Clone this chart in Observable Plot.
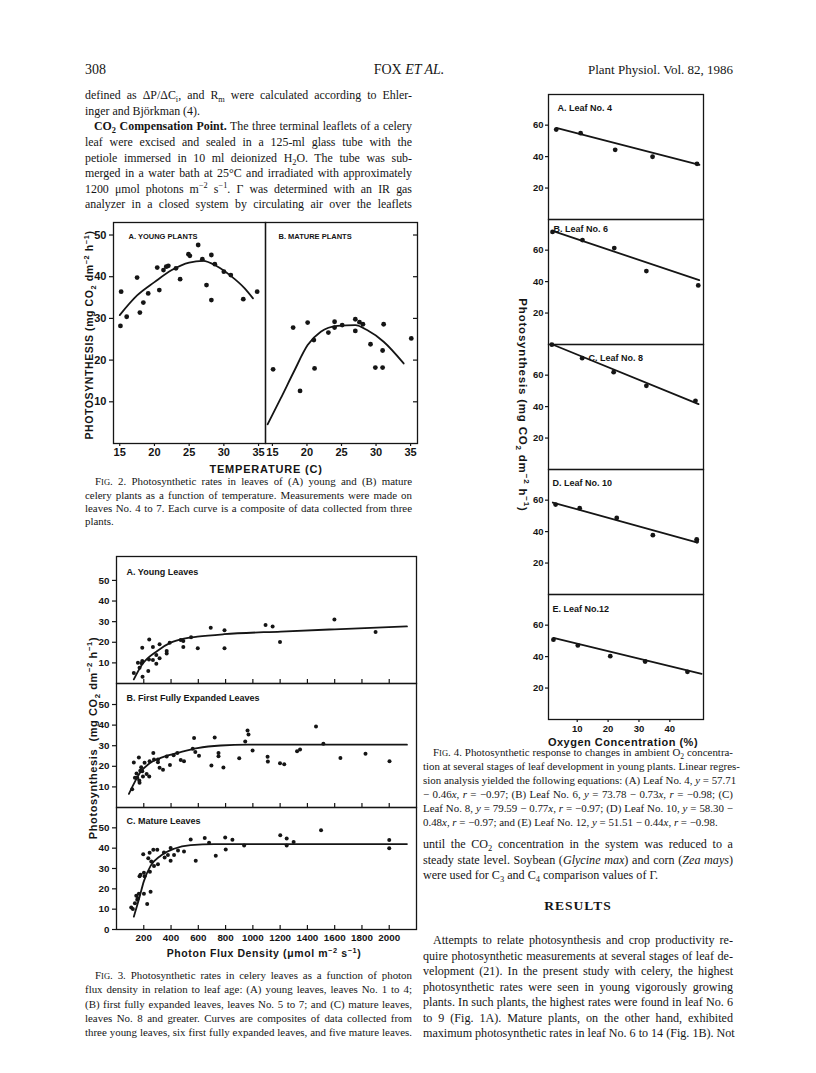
<!DOCTYPE html>
<html><head><meta charset="utf-8">
<script src="https://cdn.jsdelivr.net/npm/d3@7"></script>
<script src="https://cdn.jsdelivr.net/npm/@observablehq/plot@0.6"></script>
<style>
html,body{margin:0;padding:0;background:#fff;}
#page{position:relative;width:816px;height:1073px;overflow:hidden;background:#fff;color:#151515;font-family:'Liberation Serif','Times New Roman',serif;}
.ln{position:absolute;white-space:nowrap;text-align:justify;text-align-last:justify;}
.ln sub,.ln sup{font-size:70%;line-height:0;}
.sc{font-size:78%;}
.ax{position:absolute;font-family:'Liberation Sans',Arial,sans-serif;font-weight:bold;white-space:nowrap;color:#151515;}
.ax sub,.ax sup{font-size:70%;line-height:0;}
</style></head>
<body><div id="page"></div>
<script>
// ---------- DATA ----------
// Fig 2 temperature response
const f2TempTicks = [15, 20, 25, 30, 35];
const f2RateTicks = [10, 20, 30, 40, 50];
const f2A_temp = [15.2,15.1,16.0,17.5,17.9,18.4,19.1,20.4,20.7,21.3,21.7,22.0,23.1,23.7,24.9,25.1,26.3,26.9,27.5,28.2,28.2,28.7,30.0,31.0,32.8,34.8];
const f2A_rate = [36.4,28.2,30.4,39.8,31.4,33.8,36.0,42.2,36.8,41.6,42.4,42.6,42.0,39.4,45.4,45.0,47.6,44.2,38.0,45.2,34.4,43.0,41.2,40.4,34.6,36.4];
const f2A_curveT = [15,17.5,20,22.5,25,27,29,31,33,34.2];
const f2A_curveP = [30.8,35.5,38.7,41.6,43.4,43.8,42.5,40.2,37.2,34.8];
const f2B_temp = [15.1,18.0,19.0,20.1,21.0,21.1,23.1,24.0,24.0,25.1,27.0,27.0,27.6,28.1,29.2,29.9,30.95,30.95,31.1,35.1];
const f2B_rate = [17.8,27.8,12.6,29.0,24.8,18.0,26.6,29.2,27.8,28.4,29.8,27.0,29.1,28.6,23.8,18.2,22.3,18.2,28.6,25.2];
const f2B_curveT = [14.3,16.2,18.1,20.1,22.0,24.4,27,28.7,31.1,34.0];
const f2B_curveP = [4.6,10.8,17.2,23.6,26.8,28.2,28.4,27.2,24.4,19.2];

// Fig 3 light response
const f3XTicks = [200,400,600,800,1000,1200,1400,1600,1800,2000];
const f3YTicks = [10,20,30,40,50];
const f3YTicksC = [0,10,20,30,40,50];
const f3A_ppfd = [127,157,169,184,189,189,191,233,240,238,267,267,292,292,316,316,368,368,390,471,490,490,547,596,691,792,792,1093,1145,1199,1598,1900];
const f3A_rate = [5.1,10.1,7.7,9.8,10.9,17.4,3.3,6.1,21.4,11.7,17.7,11.4,13.8,9.6,19.0,12.2,14.6,15.8,19.8,21.1,20.6,17.7,22.4,17.1,27.1,25.8,17.1,28.4,27.6,20.1,31.1,25.0];
const f3A_curveX = [127,189,299,397,495,593,789,1206,1600,2130];
const f3A_curveY = [2.0,9.3,15.8,19.8,21.8,22.7,23.9,25.2,26.3,27.7];
const f3B_ppfd = [115,127,135,147,152,164,167,169,174,181,189,194,206,221,240,243,270,275,304,304,316,341,368,392,419,446,471,495,559,569,578,605,696,720,748,748,784,900,944,961,968,998,1108,1110,1199,1230,1324,1346,1463,1517,1642,1826,2002];
const f3B_rate = [8.9,21.8,14.4,16.5,14.4,24.3,13.1,12.0,17.8,19.6,17.6,15.0,21.7,16.3,15.0,22.5,26.4,23.3,23.3,22.0,19.3,18.3,24.8,20.6,25.4,26.4,23.1,22.5,28.5,33.8,26.9,25.1,20.4,34.0,26.4,24.9,19.4,23.9,32.0,37.4,35.4,27.7,24.6,22.3,21.5,21.0,27.3,28.2,39.3,30.9,24.0,26.1,22.5];
const f3B_curveX = [91,127,176,238,324,471,593,765,961,1300,2130];
const f3B_curveY = [6.6,11.5,17.2,21.2,24.1,26.9,28.8,30.1,30.5,30.5,30.5];
const f3C_ppfd = [108,120,135,145,152,157,164,169,176,196,201,201,206,225,233,243,245,250,255,270,275,299,304,348,353,377,397,397,422,451,495,544,581,647,679,728,797,801,850,936,1201,1248,1248,1299,1500,2000,2000];
const f3C_rate = [10.8,10.1,12.9,16.6,14.6,15.4,17.6,26.2,26.9,37.0,17.6,27.9,26.2,12.6,35.0,37.8,28.4,18.6,33.4,39.2,31.2,39.2,32.1,37.9,35.4,36.6,33.8,40.1,36.6,38.8,38.3,44.3,33.8,45.0,42.7,36.3,45.2,39.3,44.2,41.3,46.3,44.7,41.3,43.0,48.8,44.0,40.0];
const f3C_curveX = [127,164,201,250,324,422,544,716,1000,2130];
const f3C_curveY = [6.3,14.7,23.8,31.3,36.3,39.7,41.5,42.0,42.0,42.0];

// Fig 4 oxygen response
const f4XTicks = [10,20,30,40];
const f4YTicks = [20,40,60];
const f4A_o2 = [3.2,11.1,22.3,34.4,48.8], f4A_rate = [57.2,54.9,44.3,39.9,35.4];
const f4A_fitX = [3.2,49.6], f4A_fitY = [58.3,34.8];
const f4B_o2 = [2.0,11.7,22.0,32.4,49.2], f4B_rate = [71.6,66.4,61.3,46.7,37.6];
const f4B_fitX = [2.0,49.5], f4B_fitY = [72.3,40.9];
const f4C_o2 = [1.8,11.6,21.8,32.4,48.3], f4C_rate = [79.4,70.8,61.9,53.2,43.7];
const f4C_fitX = [1.4,49.3], f4C_fitY = [80.0,41.6];
const f4D_o2 = [3.0,10.8,22.8,34.5,48.7,48.7], f4D_rate = [57.2,54.9,48.7,37.7,35.1,34.0];
const f4D_fitX = [2.1,49.0], f4D_fitY = [58.5,33.0];
const f4E_o2 = [2.3,10.2,20.7,32.0,45.7], f4E_rate = [50.8,47.1,40.3,36.9,30.3];
const f4E_fitX = [2.3,50.3], f4E_fitY = [51.9,29.0];

// ---------- HELPERS ----------
const page = document.getElementById("page");
const zip = (xs, ys) => xs.map((x, i) => ({x, y: ys[i]}));
const SANS = "'Liberation Sans', Arial, sans-serif";
const plain = d => String(d);

function place(el, left, top) {
  const d = document.createElement("div");
  d.style.cssText = `position:absolute;left:${left}px;top:${top}px;`;
  d.appendChild(el);
  page.appendChild(d);
}

function chart(o) {
  const ML = 40, MR = 12, MT = 12, MB = 30;
  const marks = [Plot.frame({stroke: "#151515", strokeWidth: 1.3})];
  if (o.yTicks) marks.push(Plot.axisY(o.yTicks, {tickSize: o.yTickSize ?? 4, tickPadding: o.yPad ?? 3, label: null, fontSize: o.fs, strokeWidth: 1.2, tickFormat: plain}));
  if (o.yTicksRight) marks.push(Plot.tickY(o.yTicksRight, {y: d => d, insetLeft: o.W - 4, stroke: "#151515", strokeWidth: 1.2}));
  if (o.xLabels) marks.push(Plot.axisX(o.xLabels, {tickSize: o.xTickSize ?? 4, tickPadding: o.xPad ?? 3, label: null, fontSize: o.fs, strokeWidth: 1.2, tickFormat: plain}));
  if (o.xInner) marks.push(Plot.tickX(o.xInner, {x: d => d, insetTop: o.H - 4, stroke: "#151515", strokeWidth: 1.2}));
  if (o.curve) marks.push(Plot.line(o.curve, {x: "x", y: "y", curve: o.curveType || "monotone-x", stroke: "#151515", strokeWidth: o.lw || 1.8}));
  marks.push(Plot.dot(o.pts, {x: "x", y: "y", r: o.r || 2.2, fill: "#151515", stroke: "none"}));
  marks.push(Plot.text([o.label], {text: d => d, frameAnchor: "top-left", dx: o.ldx, dy: o.ldy, textAnchor: "start", fontSize: o.lfs, fontWeight: "bold"}));
  const svg = Plot.plot({
    width: o.W + ML + MR, height: o.H + MT + MB,
    marginLeft: ML, marginRight: MR, marginTop: MT, marginBottom: MB,
    x: {domain: o.xd, axis: null},
    y: {domain: o.yd, axis: null},
    style: {fontFamily: SANS, fontWeight: "bold", fontSize: o.fs + "px", color: "#151515", background: "transparent", overflow: "visible"},
    marks
  });
  place(svg, o.L - ML, o.T - MT);
}

function axLabel(html, cx, cy, size, rot, spacing) {
  const d = document.createElement("div");
  d.className = "ax";
  d.innerHTML = html;
  d.style.fontSize = size + "px";
  d.style.letterSpacing = (spacing || 0) + "px";
  d.style.left = cx + "px";
  d.style.top = cy + "px";
  d.style.transform = `translate(-50%,-50%) rotate(${rot}deg)`;
  page.appendChild(d);
}

function lines(arr, x, y0, width, lh, size, opts = {}) {
  arr.forEach((t, i) => {
    const d = document.createElement("div");
    d.className = "ln";
    const ind = (opts.indents && opts.indents[i]) || 0;
    d.style.left = (x + ind) + "px";
    d.style.width = (width - ind) + "px";
    d.style.top = (y0 + i * lh - lh / 2) + "px";
    d.style.height = lh + "px";
    d.style.lineHeight = lh + "px";
    d.style.fontSize = size + "px";
    if (opts.leftLines && opts.leftLines.includes(i)) d.style.textAlignLast = "left";
    d.innerHTML = t;
    page.appendChild(d);
  });
}

// ---------- HEADER & TEXT ----------
function put(html, left, top, size, align, extra) {
  const d = document.createElement("div");
  d.style.cssText = `position:absolute;top:${top}px;font-size:${size}px;white-space:nowrap;line-height:${size + 2}px;` + (extra || "");
  if (align === "right") { d.style.right = (816 - left) + "px"; }
  else if (align === "center") { d.style.left = left + "px"; d.style.transform = "translateX(-50%)"; }
  else d.style.left = left + "px";
  d.innerHTML = html;
  page.appendChild(d);
}
put("308", 85, 62, 14);
put("FOX <i>ET AL.</i>", 409, 62, 14, "center");
put("Plant Physiol. Vol. 82, 1986", 733, 62, 13, "right");

lines([
  "defined as ΔP/ΔC<sub>i</sub>, and R<sub>m</sub> were calculated according to Ehler-",
  "inger and Björkman (4).",
  "<b>CO<sub>2</sub> Compensation Point.</b> The three terminal leaflets of a celery",
  "leaf were excised and sealed in a 125-ml glass tube with the",
  "petiole immersed in 10 ml deionized H<sub>2</sub>O. The tube was sub-",
  "merged in a water bath at 25°C and irradiated with approximately",
  "1200 μmol photons m<sup>−2</sup> s<sup>−1</sup>. Γ was determined with an IR gas",
  "analyzer in a closed system by circulating air over the leaflets"
], 85, 96, 327, 15.6, 11.9, {leftLines: [1], indents: {2: 9}});

lines([
  "F<span class='sc'>IG</span>. 2. Photosynthetic rates in leaves of (A) young and (B) mature",
  "celery plants as a function of temperature. Measurements were made on",
  "leaves No. 4 to 7. Each curve is a composite of data collected from three",
  "plants."
], 85, 482, 327, 13.3, 10.9, {leftLines: [3], indents: {0: 10}});

lines([
  "F<span class='sc'>IG</span>. 3. Photosynthetic rates in celery leaves as a function of photon",
  "flux density in relation to leaf age: (A) young leaves, leaves No. 1 to 4;",
  "(B) first fully expanded leaves, leaves No. 5 to 7; and (C) mature leaves,",
  "leaves No. 8 and greater. Curves are composites of data collected from",
  "three young leaves, six first fully expanded leaves, and five mature leaves."
], 85, 975, 327, 14.4, 10.9, {indents: {0: 10}});

lines([
  "F<span class='sc'>IG</span>. 4. Photosynthetic response to changes in ambient O<sub>2</sub> concentra-",
  "tion at several stages of leaf development in young plants. Linear regres-",
  "sion analysis yielded the following equations: (A) Leaf No. 4, <i>y</i> = 57.71",
  "− 0.46<i>x</i>, <i>r</i> = −0.97; (B) Leaf No. 6, <i>y</i> = 73.78 − 0.73<i>x</i>, <i>r</i> = −0.98; (C)",
  "Leaf No. 8, <i>y</i> = 79.59 − 0.77<i>x</i>, <i>r</i> = −0.97; (D) Leaf No. 10, <i>y</i> = 58.30 −",
  "0.48<i>x</i>, <i>r</i> = −0.97; and (E) Leaf No. 12, <i>y</i> = 51.51 − 0.44<i>x</i>, <i>r</i> = −0.98."
], 423, 752, 310, 14, 10.9, {leftLines: [5], indents: {0: 10}});

lines([
  "until the CO<sub>2</sub> concentration in the system was reduced to a",
  "steady state level. Soybean (<i>Glycine max</i>) and corn (<i>Zea mays</i>)",
  "were used for C<sub>3</sub> and C<sub>4</sub> comparison values of Γ."
], 423, 845, 310, 15.3, 12.1, {leftLines: [2]});

put("<b>RESULTS</b>", 578, 898, 13.5, "center", "letter-spacing:1px;");

lines([
  "Attempts to relate photosynthesis and crop productivity re-",
  "quire photosynthetic measurements at several stages of leaf de-",
  "velopment (21). In the present study with celery, the highest",
  "photosynthetic rates were seen in young vigorously growing",
  "plants. In such plants, the highest rates were found in leaf No. 6",
  "to 9 (Fig. 1A). Mature plants, on the other hand, exhibited",
  "maximum photosynthetic rates in leaf No. 6 to 14 (Fig. 1B). Not"
], 423, 941, 310, 15.5, 12.1, {indents: {0: 10}});

// ---------- FIG 2 ----------
chart({L: 113, T: 222, W: 152, H: 221, xd: [14.1, 36], yd: [0, 53], fs: 11,
  yTicks: f2RateTicks, xLabels: f2TempTicks, xTickSize: 3, xPad: 2,
  pts: zip(f2A_temp, f2A_rate), curve: zip(f2A_curveT, f2A_curveP), r: 2.4,
  label: "A. YOUNG PLANTS", ldx: 15, ldy: 11, lfs: 7.5});
chart({L: 265, T: 222, W: 152, H: 221, xd: [14.0, 36], yd: [0, 53], fs: 11,
  yTicksRight: f2RateTicks, xLabels: f2TempTicks, xTickSize: 3, xPad: 2,
  pts: zip(f2B_temp, f2B_rate), curve: zip(f2B_curveT, f2B_curveP), r: 2.4,
  label: "B. MATURE PLANTS", ldx: 13, ldy: 11, lfs: 7.5});
axLabel("PHOTOSYNTHESIS (mg CO<sub>2</sub> dm<sup>−2</sup> h<sup>−1</sup>)", 89, 335, 10.5, -90, 0.6);
axLabel("TEMPERATURE (C)", 266, 469, 11, 0, 0.8);

// ---------- FIG 3 ----------
chart({L: 116, T: 556, W: 300, H: 127, xd: [0, 2200], yd: [0, 61.6], fs: 9.8,
  yTicks: f3YTicks, xInner: f3XTicks,
  pts: zip(f3A_ppfd, f3A_rate), curve: zip(f3A_curveX, f3A_curveY), r: 2.0,
  label: "A. Young Leaves", ldx: 10, ldy: 12, lfs: 9});
chart({L: 116, T: 683, W: 300, H: 124, xd: [0, 2200], yd: [0, 60.2], fs: 9.8,
  yTicks: f3YTicks, xInner: f3XTicks,
  pts: zip(f3B_ppfd, f3B_rate), curve: zip(f3B_curveX, f3B_curveY), r: 2.0,
  label: "B. First Fully Expanded Leaves", ldx: 10, ldy: 11, lfs: 9});
chart({L: 116, T: 807, W: 300, H: 122, xd: [0, 2200], yd: [0, 60], fs: 9.8,
  yTicks: f3YTicksC, xInner: f3XTicks, xLabels: f3XTicks, xTickSize: 0, xPad: 5,
  pts: zip(f3C_ppfd, f3C_rate), curve: zip(f3C_curveX, f3C_curveY), r: 2.0,
  label: "C. Mature Leaves", ldx: 10, ldy: 10, lfs: 9});
axLabel("Photosynthesis&nbsp;&nbsp;(mg CO<sub>2</sub> dm<sup>−2</sup> h<sup>−1</sup>)", 93, 738, 11, -90, 0.6);
axLabel("Photon Flux Density (μmol m<sup>−2</sup> s<sup>−1</sup>)", 264, 953, 10.5, 0, 0.6);

// ---------- FIG 4 ----------
const f4 = [
  [f4A_o2, f4A_rate, f4A_fitX, f4A_fitY, "A. Leaf No. 4", 9, 10, 94],
  [f4B_o2, f4B_rate, f4B_fitX, f4B_fitY, "B. Leaf No. 6", 5, 6, 219],
  [f4C_o2, f4C_rate, f4C_fitX, f4C_fitY, "C. Leaf No. 8", 40, 10, 344],
  [f4D_o2, f4D_rate, f4D_fitX, f4D_fitY, "D. Leaf No. 10", 4, 10, 469],
  [f4E_o2, f4E_rate, f4E_fitX, f4E_fitY, "E. Leaf No.12", 4, 11, 594]
];
f4.forEach(([xs, ys, fx, fy, lab, ldx, ldy, top], i) => {
  chart({L: 548, T: top, W: 155, H: 125, xd: [0.7, 50.9], yd: [0, 79.5], fs: 9.5,
    yTicks: f4YTicks, yTickSize: 3, yPad: 2, xLabels: i === 4 ? f4XTicks : null, xTickSize: 3, xPad: 3,
    pts: zip(xs, ys), curve: zip(fx, fy), curveType: "linear", r: 2.4,
    label: lab, ldx, ldy, lfs: 9});
});
axLabel("Photosynthesis (mg CO<sub>2</sub> dm<sup>−2</sup> h<sup>−1</sup>)", 523, 405, 11.5, 90, 0.8);
axLabel("Oxygen Concentration (%)", 623, 742, 11, 0, 0.5);
</script>
</body></html>
